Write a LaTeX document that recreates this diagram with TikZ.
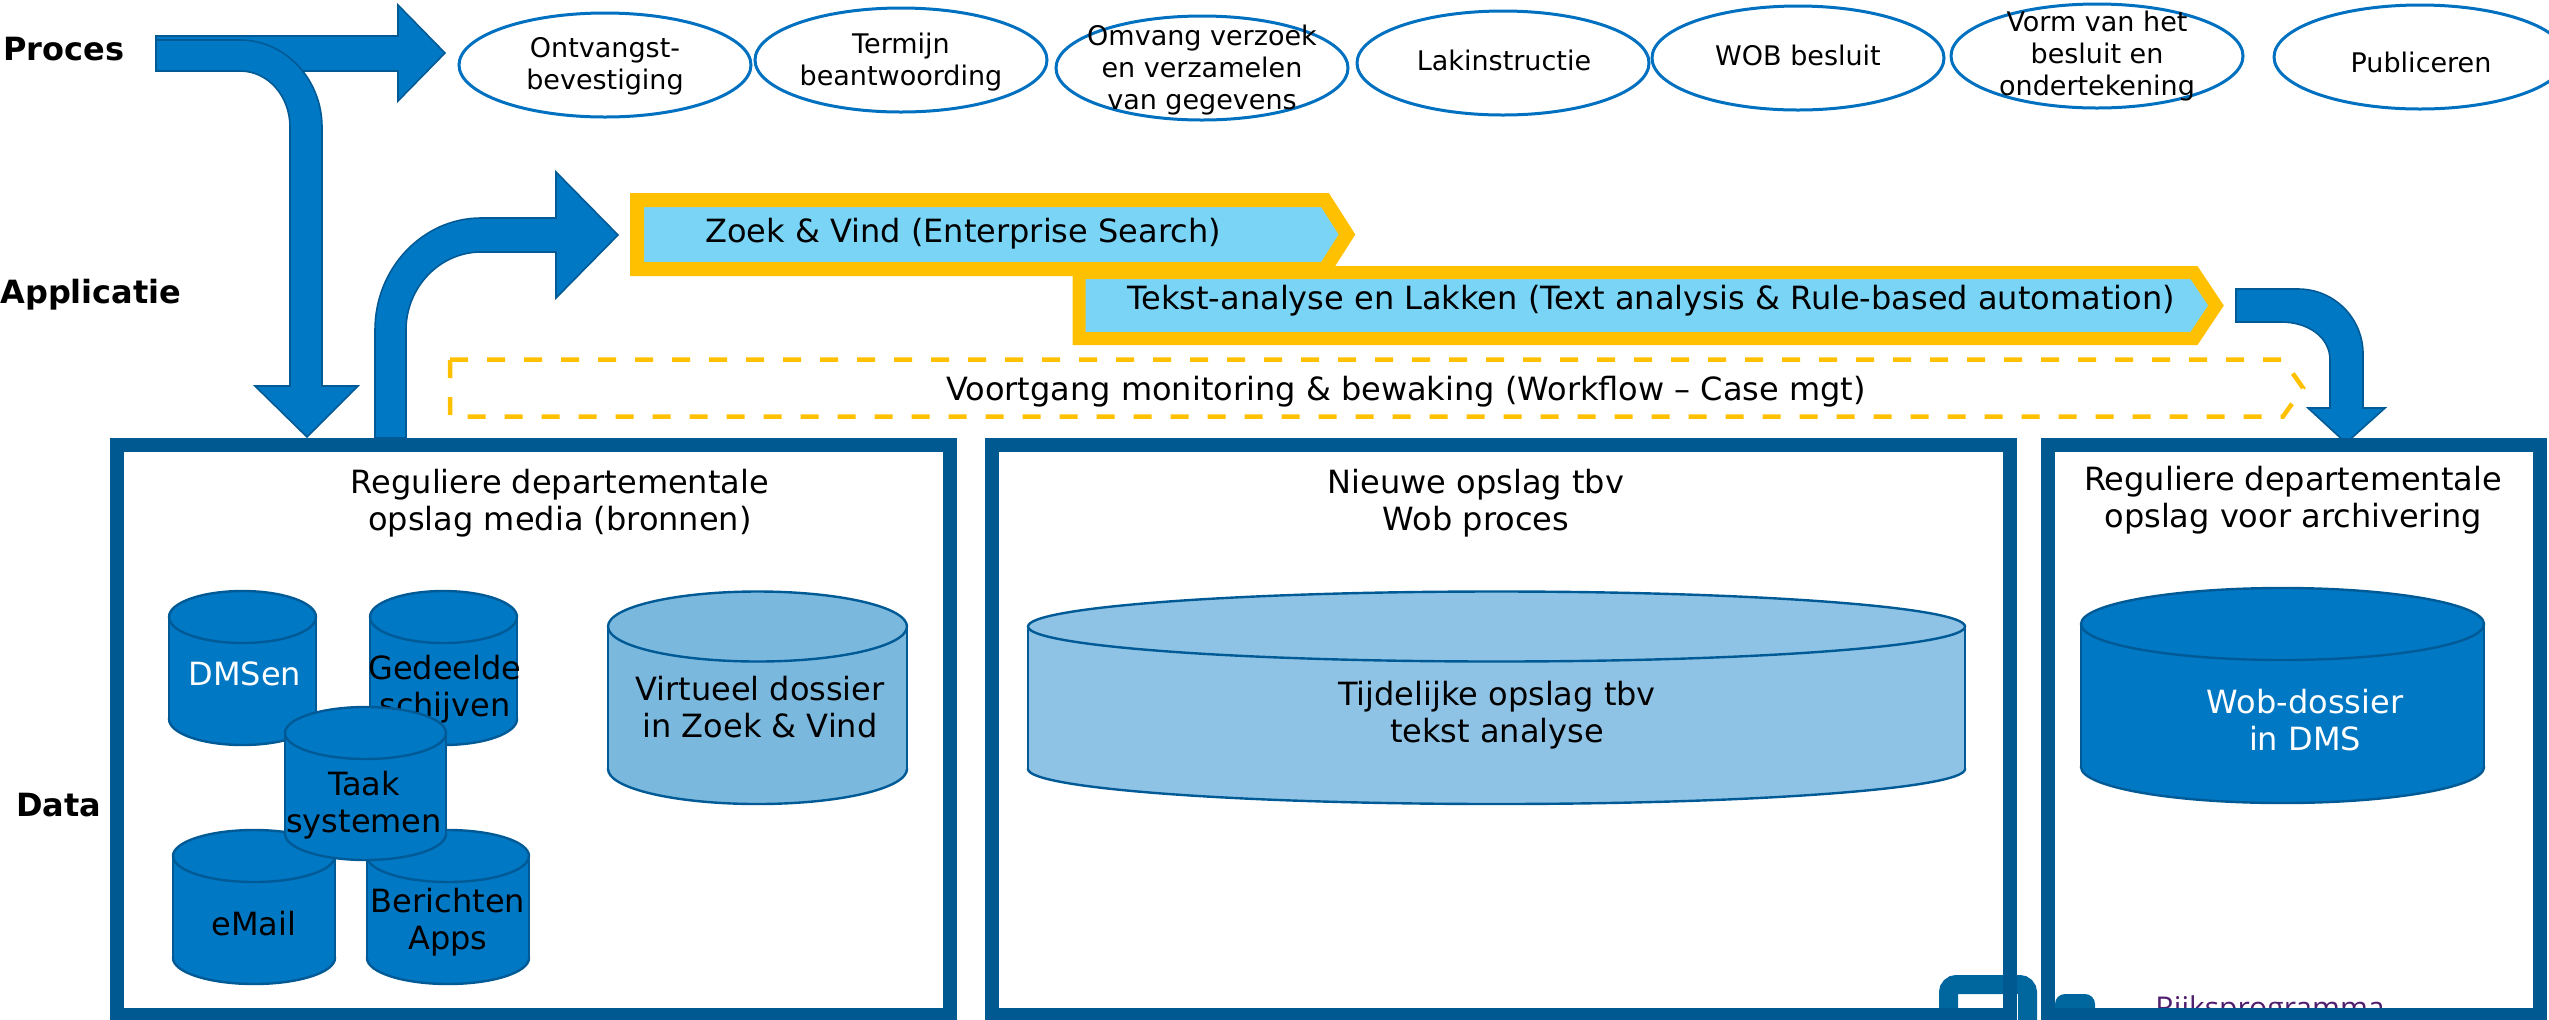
\documentclass[tikz,border=0pt]{standalone}
\usepackage{fontspec}
\setmainfont{DejaVu Sans}
\newfontfamily\logofont{Open Sans}
\usetikzlibrary{shapes.geometric}

\definecolor{arrowblue}{RGB}{0,120,196}
\definecolor{arrowedge}{RGB}{0,90,150}
\definecolor{boxblue}{RGB}{0,90,145}
\definecolor{baryellow}{RGB}{255,192,0}
\definecolor{barcyan}{RGB}{121,212,246}
\definecolor{ellblue}{RGB}{0,112,192}
\definecolor{cyldark}{RGB}{0,120,196}
\definecolor{cyledge}{RGB}{0,90,150}
\definecolor{cyllight}{RGB}{122,184,222}
\definecolor{cylpale}{RGB}{142,195,229}
\definecolor{logoblue}{RGB}{0,103,158}
\definecolor{logopurple}{RGB}{80,30,110}

\newcommand{\bigtxt}{\fontsize{16}{18.5}\selectfont}
\newcommand{\smalltxt}{\fontsize{13.5}{16}\selectfont}

% database cylinder: centre x, top, bottom, x radius, y radius, fill
\newcommand{\dbcyl}[6]{%
  \filldraw[cylline, fill=#6] (#1,#3-#5) ellipse [x radius=#4, y radius=#5];
  \fill[#6] (#1-#4,#2+#5) rectangle (#1+#4,#3-#5);
  \draw[cylline] (#1-#4,#2+#5) -- (#1-#4,#3-#5) (#1+#4,#2+#5) -- (#1+#4,#3-#5);
  \filldraw[cylline, fill=#6] (#1,#2+#5) ellipse [x radius=#4, y radius=#5];
}

\begin{document}
\begin{tikzpicture}[x=0.5pt, y=-0.5pt]
	\tikzstyle{lanelabel} = [font=\bfseries\bigtxt, anchor=west, inner sep=0pt]
	\tikzstyle{procstep} = [ellipse, draw=ellblue, line width=1.5pt, fill=white, minimum width=146pt, minimum height=52pt, inner sep=0pt]
	\tikzstyle{steptext} = [align=center, font=\smalltxt, inner sep=0pt]
	\tikzstyle{blockarrow} = [fill=arrowblue, draw=arrowedge, line width=0.8pt, line join=miter]
	\tikzstyle{appbar} = [fill=barcyan, draw=baryellow, line width=7pt, line join=miter]
	\tikzstyle{bartext} = [anchor=west, font=\bigtxt, inner sep=0pt]
	\tikzstyle{mybox} = [draw=boxblue, line width=7pt, minimum height=285.25pt, inner sep=0pt]
	\tikzstyle{boxtitle} = [align=center, font=\bigtxt, inner sep=0pt]
	\tikzstyle{cylline} = [draw=cyledge, line width=1.2pt]
	\tikzstyle{cyltext} = [align=center, font=\bigtxt, inner sep=0pt]
	
	\useasboundingbox (0,0) rectangle (2549,1019);
	
	\node[lanelabel] (proces) at (3,49) {Proces};
	\node[lanelabel] (applicatie) at (0,295) {Applicatie};
	\node[lanelabel] (data) at (16,805) {Data};
	
	% logo, half hidden under the boxes
	\draw[logoblue, line width=9.5pt, rounded corners=4pt] (1948.5,1060) -- (1948.5,984.5) -- (2027.5,984.5) -- (2027.5,1060);
	\fill[logoblue, rounded corners=5pt] (2055,994) rectangle (2095,1060);
	\node[anchor=north west, inner sep=0pt, font=\logofont\fontsize{15}{18}\selectfont, text=logopurple] (rijks) at (2155,995) {Rijksprogramma};
	
	% block arrows
	\draw[blockarrow] (156,36) -- (398,36) -- (398,5) -- (445,53) -- (398,101) -- (398,71) -- (156,71) -- cycle;
	\draw[blockarrow] (156,40) -- (240,40) .. controls (285,40) and (322,79) .. (322,127) -- (322,386) -- (358,386) -- (307,437) -- (255,386) -- (290,386) -- (290,127) .. controls (290,96) and (268,71) .. (240,71) -- (156,71) -- cycle;
	\draw[blockarrow] (375,438) -- (375,330) .. controls (375,268) and (423,218) .. (481,218) -- (556,218) -- (556,172) -- (618,235) -- (556,298) -- (556,252) -- (481,252) .. controls (440,252) and (406,287) .. (406,330) -- (406,438) -- cycle;
	\draw[blockarrow] (2236,289) -- (2298,289) .. controls (2334,289) and (2363,318) .. (2363,354) -- (2363,408) -- (2385,408) -- (2346,443) -- (2308,408) -- (2330,408) -- (2330,360) .. controls (2330,337) and (2308,322) .. (2281,322) -- (2236,322) -- cycle;
	
	% data boxes
	\node[mybox, minimum width=416.5pt] (bron) at (533.5,729.75) {};
	\node[mybox, minimum width=509pt] (wobopslag) at (1501,729.75) {};
	\node[mybox, minimum width=246pt] (archief) at (2294,729.75) {};
	\node[boxtitle] (brontitel) at (560,503) {Reguliere departementale\\opslag media (bronnen)};
	\node[boxtitle] (wobtitel) at (1476,503) {Nieuwe opslag tbv\\Wob proces};
	\node[boxtitle] (archieftitel) at (2293,500) {Reguliere departementale\\opslag voor archivering};
	
	% applicatie bars
	\draw[appbar] (637,200) -- (1325,200) -- (1347,234.5) -- (1325,269) -- (637,269) -- cycle;
	\node[bartext] (zoek) at (705,234) {Zoek \& Vind (Enterprise Search)};
	\draw[appbar, line width=6.5pt] (1079,272.5) -- (2194,272.5) -- (2216,305.5) -- (2194,338.5) -- (1079,338.5) -- cycle;
	\node[bartext] (tekst) at (1127,301) {Tekst-analyse en Lakken (Text analysis \& Rule-based automation)};
	\draw[baryellow, line width=2.25pt, dash pattern=on 9pt off 9.5pt] (450,359.5) -- (2283,359.5) -- (2303,388) -- (2283,416.5) -- (450,416.5) -- cycle;
	\node[font=\bigtxt, inner sep=0pt] (voortgang) at (1406,392) {Voortgang monitoring \& bewaking (Workflow – Case mgt)};
	
	% proces steps
	\node[procstep] (stap1) at (605,65) {};
	\node[procstep] (stap2) at (901,60) {};
	\node[procstep] (stap3) at (1202,68) {};
	\node[procstep] (stap4) at (1503,63) {};
	\node[procstep] (stap5) at (1798,58) {};
	\node[procstep] (stap6) at (2097,56) {};
	\node[procstep] (stap7) at (2420,57) {};
	\node[steptext] (tekst1) at (605,66) {Ontvangst-\\bevestiging};
	\node[steptext] (tekst2) at (901,62) {Termijn\\beantwoording};
	\node[steptext] (tekst3) at (1202,70) {Omvang verzoek\\en verzamelen\\van gegevens};
	\node[steptext] (tekst4) at (1504,60) {Lakinstructie};
	\node[steptext] (tekst5) at (1798,55) {WOB besluit};
	\node[steptext] (tekst6) at (2097,56) {Vorm van het\\besluit en\\ondertekening};
	\node[steptext] (tekst7) at (2421,62) {Publiceren};
	
	% databases
	\dbcyl{242.5}{591}{745}{73.5}{26}{cyldark}
	\node[cyltext, text=white] (dmsen) at (245,674) {DMSen};
	\dbcyl{443.5}{591}{745}{73.5}{26}{cyldark}
	\node[cyltext] (gedeeld) at (445,689) {Gedeelde\\schijven};
	\dbcyl{254}{830}{984}{81}{26}{cyldark}
	\node[cyltext] (email) at (254,924) {eMail};
	\dbcyl{448}{830}{984}{81}{26}{cyldark}
	\node[cyltext] (berichten) at (448,922) {Berichten\\Apps};
	\dbcyl{365.5}{707}{860}{80.5}{26}{cyldark}
	\node[cyltext] (taak) at (364,805) {Taak\\systemen};
	\dbcyl{757.5}{591.5}{804}{149.5}{35}{cyllight}
	\node[cyltext] (virtueel) at (760,707) {Virtueel dossier\\in Zoek \& Vind};
	\dbcyl{1496.5}{591.5}{804}{468.5}{35}{cylpale}
	\node[cyltext] (tijdelijk) at (1497,715) {Tijdelijke opslag tbv\\tekst analyse};
	\dbcyl{2282.5}{588}{803}{201.5}{36}{cyldark}
	\node[cyltext, text=white] (wobdossier) at (2305,720) {Wob-dossier\\in DMS};
	
\end{tikzpicture}
\end{document}
